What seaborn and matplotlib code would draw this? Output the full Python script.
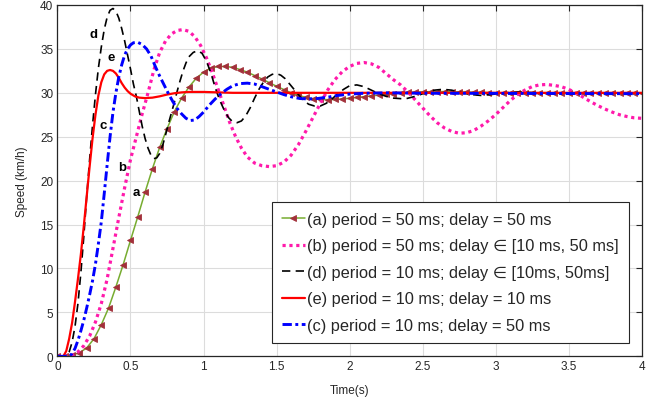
import matplotlib
matplotlib.use("Agg")
import matplotlib.pyplot as plt
import seaborn as sns

# (a) period = 50 ms; delay = 50 ms  -- one sample every 50 ms
time_a = [0.00, 0.05, 0.10, 0.15, 0.20, 0.25, 0.30, 0.35, 0.40, 0.45,
          0.50, 0.55, 0.60, 0.65, 0.70, 0.75, 0.80, 0.85, 0.90, 0.95,
          1.00, 1.05, 1.10, 1.15, 1.20, 1.25, 1.30, 1.35, 1.40, 1.45,
          1.50, 1.55, 1.60, 1.65, 1.70, 1.75, 1.80, 1.85, 1.90, 1.95,
          2.00, 2.05, 2.10, 2.15, 2.20, 2.25, 2.30, 2.35, 2.40, 2.45,
          2.50, 2.55, 2.60, 2.65, 2.70, 2.75, 2.80, 2.85, 2.90, 2.95,
          3.00, 3.05, 3.10, 3.15, 3.20, 3.25, 3.30, 3.35, 3.40, 3.45,
          3.50, 3.55, 3.60, 3.65, 3.70, 3.75, 3.80, 3.85, 3.90, 3.95,
          4.00]
speed_a = [0.0, 0.0, 0.15, 0.4, 0.95, 2.0, 3.6, 5.5, 7.9, 10.45,
           13.2, 15.9, 18.7, 21.35, 23.8, 25.9, 27.85, 29.4, 30.65, 31.65,
           32.35, 32.8, 33.0, 33.0, 32.9, 32.65, 32.35, 31.97, 31.58, 31.16,
           30.75, 30.37, 30.0, 29.72, 29.48, 29.32, 29.24, 29.22, 29.24, 29.3,
           29.38, 29.47, 29.56, 29.65, 29.74, 29.83, 29.91, 29.98, 30.04, 30.08,
           30.11, 30.13, 30.14, 30.14, 30.13, 30.11, 30.09, 30.07, 30.05, 30.03,
           30.01, 30.0, 30.0, 30.0, 30.0, 30.0, 30.0, 30.0, 30.0, 30.0,
           30.0, 30.0, 30.0, 30.0, 30.0, 30.0, 30.0, 30.0, 30.0, 30.0,
           30.0]

# (b) period = 50 ms; delay in [10 ms, 50 ms]
time_b = [0.00, 0.08, 0.10, 0.14, 0.18, 0.22, 0.26, 0.30, 0.34, 0.38,
          0.42, 0.46, 0.50, 0.54, 0.58, 0.62, 0.66, 0.70, 0.74, 0.78,
          0.82, 0.86, 0.90, 0.94, 0.98, 1.02, 1.06, 1.10, 1.14, 1.18,
          1.22, 1.26, 1.30, 1.35, 1.40, 1.45, 1.50, 1.55, 1.60, 1.65,
          1.70, 1.75, 1.80, 1.85, 1.90, 1.95, 2.00, 2.05, 2.10, 2.15,
          2.20, 2.25, 2.30, 2.35, 2.40, 2.45, 2.50, 2.55, 2.60, 2.65,
          2.70, 2.75, 2.80, 2.85, 2.90, 2.95, 3.00, 3.05, 3.10, 3.15,
          3.20, 3.25, 3.30, 3.35, 3.40, 3.45, 3.50, 3.55, 3.60, 3.65,
          3.70, 3.75, 3.80, 3.85, 3.90, 3.95, 4.00]
speed_b = [0.0, 0.0, 0.1, 0.5, 1.2, 2.3, 3.9, 6.0, 8.8, 12.3,
           15.8, 19.2, 22.4, 25.0, 27.6, 30.0, 32.6, 34.6, 35.9, 36.7,
           37.1, 37.2, 37.0, 36.4, 35.4, 34.0, 32.3, 30.4, 28.5, 26.6,
           25.0, 23.7, 22.7, 22.0, 21.7, 21.6, 21.7, 22.1, 22.9, 24.1,
           25.6, 27.2, 28.8, 30.3, 31.5, 32.4, 33.0, 33.35, 33.45, 33.3,
           32.9, 32.2, 31.5, 30.9, 30.1, 29.2, 28.3, 27.4, 26.6, 26.0,
           25.6, 25.4, 25.45, 25.7, 26.2, 26.8, 27.5, 28.3, 29.1, 29.8,
           30.3, 30.7, 30.9, 30.95, 30.85, 30.7, 30.4, 30.0, 29.5, 29.0,
           28.55, 28.15, 27.8, 27.5, 27.3, 27.15, 27.1]

# (d) period = 10 ms; delay in [10 ms, 50 ms]
time_d = [0.00, 0.06, 0.08, 0.10, 0.12, 0.14, 0.16, 0.18, 0.20, 0.22,
          0.24, 0.26, 0.28, 0.30, 0.32, 0.34, 0.36, 0.38, 0.40, 0.42,
          0.44, 0.46, 0.48, 0.50, 0.52, 0.54, 0.56, 0.58, 0.60, 0.62,
          0.64, 0.66, 0.68, 0.70, 0.72, 0.74, 0.76, 0.78, 0.80, 0.82,
          0.84, 0.86, 0.88, 0.90, 0.93, 0.96, 0.99, 1.02, 1.05, 1.08,
          1.11, 1.14, 1.17, 1.20, 1.23, 1.26, 1.29, 1.32, 1.35, 1.38,
          1.41, 1.44, 1.47, 1.50, 1.53, 1.56, 1.60, 1.64, 1.68, 1.72,
          1.76, 1.80, 1.84, 1.88, 1.92, 1.96, 2.00, 2.05, 2.10, 2.15,
          2.20, 2.25, 2.30, 2.38, 2.45, 2.52, 2.58, 2.64, 2.70, 2.77,
          2.84, 2.90, 2.97, 3.05, 3.15, 3.30, 4.00]
speed_d = [0.0, 0.0, 0.5, 1.6, 3.4, 6.0, 9.5, 13.6, 18.2, 22.4,
           26.3, 29.8, 32.8, 35.2, 37.2, 38.6, 39.4, 39.6, 39.3, 38.5,
           37.3, 35.9, 34.3, 32.7, 31.0, 29.6, 27.9, 26.2, 24.8, 23.7,
           22.9, 22.5, 22.6, 23.1, 24.0, 25.2, 26.5, 27.7, 28.9, 30.2,
           31.4, 32.5, 33.4, 34.1, 34.6, 34.8, 34.5, 33.6, 32.3, 30.6,
           29.2, 28.1, 27.2, 26.7, 26.6, 26.8, 27.4, 28.3, 29.4, 30.4,
           31.2, 31.8, 32.1, 32.2, 32.0, 31.6, 30.8, 30.0, 29.2, 28.7,
           28.5, 28.5, 28.8, 29.3, 29.9, 30.4, 30.8, 30.9, 30.7, 30.3,
           29.9, 29.6, 29.4, 29.3, 29.6, 30.0, 30.3, 30.4, 30.3, 30.0,
           29.8, 29.7, 29.8, 30.0, 30.1, 30.0, 30.0]

# (e) period = 10 ms; delay = 10 ms
time_e = [0.00, 0.04, 0.06, 0.08, 0.10, 0.12, 0.14, 0.16, 0.18, 0.20,
          0.22, 0.24, 0.26, 0.28, 0.30, 0.32, 0.34, 0.36, 0.38, 0.40,
          0.42, 0.44, 0.46, 0.48, 0.50, 0.53, 0.56, 0.60, 0.65, 0.70,
          0.75, 0.80, 0.85, 0.90, 1.00, 1.10, 1.20, 4.00]
speed_e = [0.0, 0.0, 0.6, 2.0, 3.8, 6.2, 8.8, 11.6, 14.8, 18.2,
           21.6, 24.8, 27.5, 29.7, 31.2, 32.1, 32.5, 32.6, 32.5, 32.2,
           31.7, 31.1, 30.6, 30.2, 29.9, 29.6, 29.45, 29.4, 29.45, 29.6,
           29.8, 29.95, 30.05, 30.1, 30.1, 30.05, 30.0, 30.0]

# (c) period = 10 ms; delay = 50 ms
time_c = [0.00, 0.08, 0.10, 0.12, 0.14, 0.16, 0.18, 0.20, 0.22, 0.24,
          0.26, 0.28, 0.30, 0.32, 0.34, 0.36, 0.38, 0.40, 0.42, 0.44,
          0.46, 0.48, 0.50, 0.52, 0.55, 0.58, 0.61, 0.64, 0.67, 0.70,
          0.73, 0.76, 0.79, 0.82, 0.85, 0.88, 0.91, 0.94, 0.97, 1.00,
          1.04, 1.08, 1.12, 1.16, 1.20, 1.25, 1.30, 1.35, 1.40, 1.45,
          1.50, 1.55, 1.60, 1.66, 1.72, 1.78, 1.85, 1.92, 2.00, 2.10,
          2.25, 2.50, 4.00]
speed_c = [0.0, 0.0, 0.3, 0.9, 1.8, 2.9, 4.1, 5.5, 7.0, 8.6,
           10.5, 12.8, 15.3, 18.5, 21.8, 25.0, 27.8, 30.0, 31.8, 33.2,
           34.3, 35.0, 35.45, 35.7, 35.75, 35.5, 35.0, 34.2, 33.0, 31.9,
           30.9, 29.9, 29.0, 28.2, 27.6, 27.1, 26.85, 26.9, 27.3, 27.8,
           28.6, 29.3, 29.9, 30.4, 30.8, 31.05, 31.1, 31.0, 30.7, 30.4,
           30.1, 29.8, 29.55, 29.35, 29.3, 29.35, 29.5, 29.7, 29.85, 29.95,
           30.0, 29.95, 29.9]

legend_labels = [
    "(a) period = 50 ms; delay = 50 ms",
    "(b) period = 50 ms; delay \u2208 [10 ms, 50 ms]",
    "(d) period = 10 ms; delay \u2208 [10ms, 50ms]",
    "(e) period = 10 ms; delay = 10 ms",
    "(c) period = 10 ms; delay = 50 ms",
]

curve_tags = ["d", "e", "c", "b", "a"]
tag_time = [0.245, 0.37, 0.31, 0.445, 0.54]
tag_speed = [36.7, 34.05, 26.3, 21.5, 18.7]

x_ticks = [0, 0.5, 1, 1.5, 2, 2.5, 3, 3.5, 4]
x_tick_labels = ["0", "0.5", "1", "1.5", "2", "2.5", "3", "3.5", "4"]
y_ticks = [0, 5, 10, 15, 20, 25, 30, 35, 40]

sns.set_theme(style="whitegrid")
plt.rcParams["font.family"] = ["Liberation Sans", "DejaVu Sans"]

ink = "#262626"

fig = plt.figure(figsize=(6.67, 4.02), dpi=100)
ax = fig.add_axes([0.0862, 0.1112, 0.8756, 0.8739])

sns.lineplot(x=time_a, y=speed_a, ax=ax, color="#77AC30", linewidth=1.1,
             marker="<", markersize=4.8, markerfacecolor="#A2303A",
             markeredgecolor="#A2303A", markeredgewidth=0.6,
             label=legend_labels[0])
sns.lineplot(x=time_b, y=speed_b, ax=ax, color="#FF1AAB", linewidth=2.3,
             linestyle=(0, (1.0, 1.15)), label=legend_labels[1])
sns.lineplot(x=time_d, y=speed_d, ax=ax, color="black", linewidth=1.2,
             linestyle=(0, (5.0, 3.2)), label=legend_labels[2])
sns.lineplot(x=time_e, y=speed_e, ax=ax, color="#FF0000", linewidth=1.6,
             label=legend_labels[3])
sns.lineplot(x=time_c, y=speed_c, ax=ax, color="#0000FF", linewidth=2.1,
             linestyle=(0, (3.2, 1.2, 1.0, 1.2)), label=legend_labels[4])

for tag, tx, ty in zip(curve_tags, tag_time, tag_speed):
    ax.text(tx, ty, tag, fontsize=9.5, fontweight="bold", color="black",
            ha="center", va="center")

ax.set_xlim(0, 4)
ax.set_ylim(0, 40)
ax.set_xticks(x_ticks)
ax.set_xticklabels(x_tick_labels)
ax.set_yticks(y_ticks)
ax.set_xlabel("Time(s)", fontsize=8.5, color=ink, labelpad=8)
ax.set_ylabel("Speed (km/h)", fontsize=8.5, color=ink, labelpad=9)

ax.grid(True, color="#DCDCDC", linewidth=0.8)
ax.tick_params(axis="both", which="both", direction="in", top=True, right=True,
               length=4, width=0.8, color=ink, labelcolor=ink, labelsize=8.5,
               pad=3)
for side in ["left", "right", "top", "bottom"]:
    ax.spines[side].set_color(ink)
    ax.spines[side].set_linewidth(0.9)
    ax.spines[side].set_visible(True)

leg = ax.legend(loc="upper left", bbox_to_anchor=(0.3673, 0.4392),
                fontsize=11.8, frameon=True, fancybox=False, framealpha=1,
                edgecolor=ink, handlelength=1.4, handletextpad=0.15,
                borderpad=0.6, labelspacing=0.7, borderaxespad=0.0)
leg.get_frame().set_linewidth(0.8)
for txt in leg.get_texts():
    txt.set_color(ink)

fig.savefig("out.png", dpi=100)
